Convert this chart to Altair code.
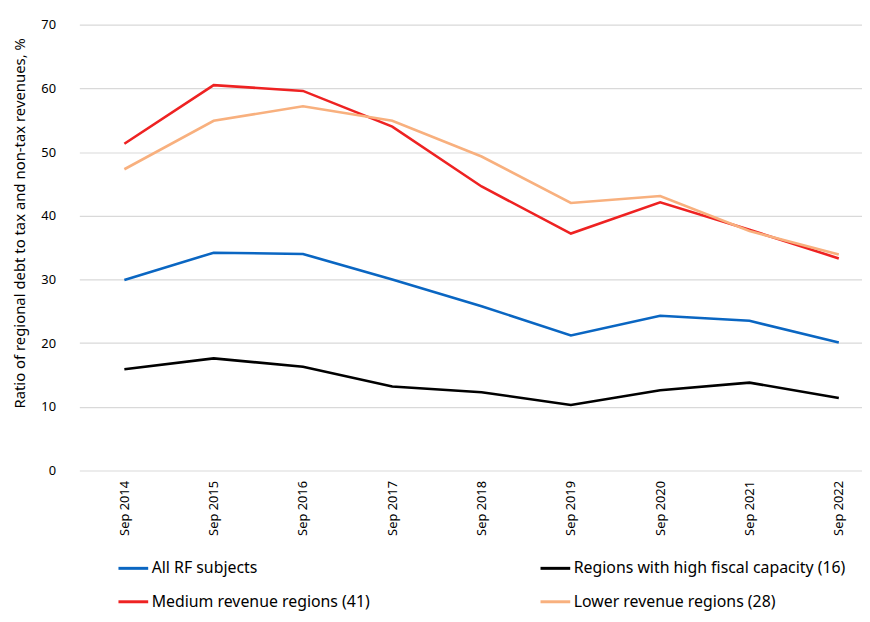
import altair as alt
import pandas as pd

years = ["Sep 2014", "Sep 2015", "Sep 2016", "Sep 2017", "Sep 2018",
         "Sep 2019", "Sep 2020", "Sep 2021", "Sep 2022"]
series_names = ["All RF subjects", "Regions with high fiscal capacity (16)",
                "Medium revenue regions (41)", "Lower revenue regions (28)"]
series_colors = ["#0A66C2", "#000000", "#EE2222", "#F8B07E"]

all_rf = [29.9, 34.2, 34.0, 30.0, 25.8, 21.2, 24.3, 23.5, 20.1]
high_cap = [15.9, 17.6, 16.3, 13.2, 12.3, 10.3, 12.6, 13.8, 11.4]
medium = [51.3, 60.5, 59.6, 54.0, 44.6, 37.2, 42.1, 37.8, 33.3]
lower = [47.3, 54.9, 57.2, 54.9, 49.3, 42.0, 43.1, 37.6, 33.9]

rows = []
for name, vals in zip(series_names, [all_rf, high_cap, medium, lower]):
    for y, v in zip(years, vals):
        rows.append({"period": y, "series": name, "value": v})
df = pd.DataFrame(rows)

font = "Noto Sans"

chart = alt.Chart(df).mark_line(strokeWidth=2.6).encode(
    x=alt.X("period:N", sort=years, title=None,
            scale=alt.Scale(type="point", padding=0.382, align=0.66),
            axis=alt.Axis(labelAngle=-90, labelAlign="right", labelBaseline="middle",
                          labelPadding=10, ticks=False, domain=False, grid=False,
                          labelFont=font, labelFontSize=13, labelColor="#000")),
    y=alt.Y("value:Q", title="Ratio of regional debt to tax and non-tax revenues, %",
            scale=alt.Scale(domain=[0, 70], nice=False),
            axis=alt.Axis(values=[0, 10, 20, 30, 40, 50, 60, 70], ticks=False, domain=False,
                          gridColor="#D9D9D9", gridWidth=1.2, labelPadding=24,
                          labelFont=font, labelFontSize=13, labelColor="#000",
                          titleFont=font, titleFontSize=15, titleFontWeight="normal",
                          titleColor="#000", titleX=-52, titleY=200)),
    color=alt.Color("series:N",
                    scale=alt.Scale(domain=series_names, range=series_colors),
                    sort=series_names,
                    legend=alt.Legend(title=None, orient="none", legendX=38, legendY=532,
                                      direction="horizontal",
                                      columns=2, columnPadding=165, rowPadding=9,
                                      symbolType="stroke", symbolSize=900,
                                      symbolStrokeWidth=3, labelOffset=2,
                                      labelFont=font, labelFontSize=16, labelColor="#000",
                                      labelLimit=400)),
).properties(
    width=790, height=450,
    autosize=alt.AutoSizeParams(type="none"),
    padding={"left": 72, "top": 14, "right": 0, "bottom": 142},
).configure_view(stroke=None)

chart.save("out.html", embed_options={"renderer": "svg", "actions": False})
